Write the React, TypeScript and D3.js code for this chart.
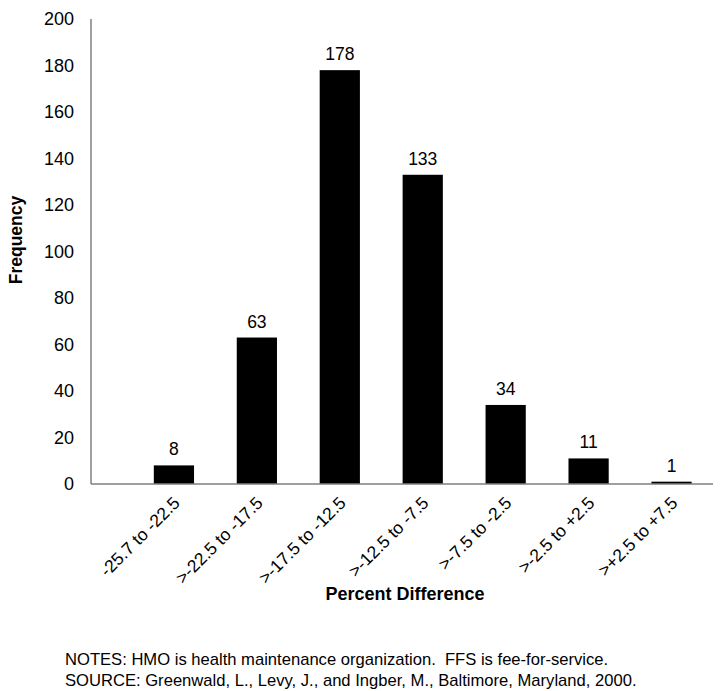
import * as d3 from 'd3'

const categories = [
  '-25.7 to -22.5',
  '>-22.5 to -17.5',
  '>-17.5 to -12.5',
  '>-12.5 to -7.5',
  '>-7.5 to -2.5',
  '>-2.5 to +2.5',
  '>+2.5 to +7.5',
]
const frequencies = [8, 63, 178, 133, 34, 11, 1]
const yTicks = [0, 20, 40, 60, 80, 100, 120, 140, 160, 180, 200]
const notes = [
  'NOTES: HMO is health maintenance organization.  FFS is fee-for-service.',
  'SOURCE: Greenwald, L., Levy, J., and Ingber, M., Baltimore, Maryland, 2000.',
]

const W = 725
const H = 691
const font = 'Arial, "Liberation Sans", Helvetica, sans-serif'

export default function App() {
  const x0 = 91
  const x1 = 713
  const y0 = 484
  const yTop = 19

  const y = d3.scaleLinear().domain([0, 200]).range([y0, yTop])
  const firstStep = (x1 - x0) / 7.5
  const x = d3
    .scaleBand<string>()
    .domain(categories)
    .range([x0 + firstStep * 0.5, x1])
    .paddingInner(0.515)
    .paddingOuter(0.2575)

  return (
    <svg
      width={W}
      height={H}
      style={{ position: 'absolute', left: 0, top: 0, background: '#fff' }}
      fontFamily={font}
    >
      {/* y tick labels */}
      {yTicks.map(t => (
        <text
          key={t}
          x={74}
          y={y(t)}
          dy="0.35em"
          textAnchor="end"
          fontSize={18}
          fill="#000"
        >
          {t}
        </text>
      ))}

      {/* bars */}
      {categories.map((c, i) => (
        <rect
          key={c}
          x={x(c)}
          y={y(frequencies[i])}
          width={x.bandwidth()}
          height={y0 - y(frequencies[i])}
          fill="#000"
        />
      ))}

      {/* value labels */}
      {categories.map((c, i) => (
        <text
          key={c}
          x={(x(c) ?? 0) + x.bandwidth() / 2}
          y={y(frequencies[i]) - 10}
          textAnchor="middle"
          fontSize={17.5}
          fill="#000"
        >
          {frequencies[i]}
        </text>
      ))}

      {/* axes */}
      <line x1={x0} x2={x0} y1={yTop} y2={y0} stroke="#7f7f7f" strokeWidth={1.5} />
      <line x1={x0} x2={x1} y1={y0} y2={y0} stroke="#7f7f7f" strokeWidth={1.5} />

      {/* x tick labels */}
      {categories.map(c => {
        const cx = (x(c) ?? 0) + x.bandwidth() / 2 + 7
        return (
          <text
            key={c}
            transform={`translate(${cx},504) rotate(-45)`}
            textAnchor="end"
            fontSize={17.5}
            fill="#000"
          >
            {c}
          </text>
        )
      })}

      <text
        transform="translate(22,240) rotate(-90)"
        textAnchor="middle"
        fontSize={17.5}
        fontWeight="bold"
      >
        Frequency
      </text>
      <text x={405} y={600} textAnchor="middle" fontSize={18} fontWeight="bold">
        Percent Difference
      </text>

      {notes.map((n, i) => (
        <text
          key={i}
          x={65}
          y={665 + i * 21}
          fontSize={16.6}
          fill="#000"
          style={{ whiteSpace: 'pre' }}
        >
          {n}
        </text>
      ))}
    </svg>
  )
}
